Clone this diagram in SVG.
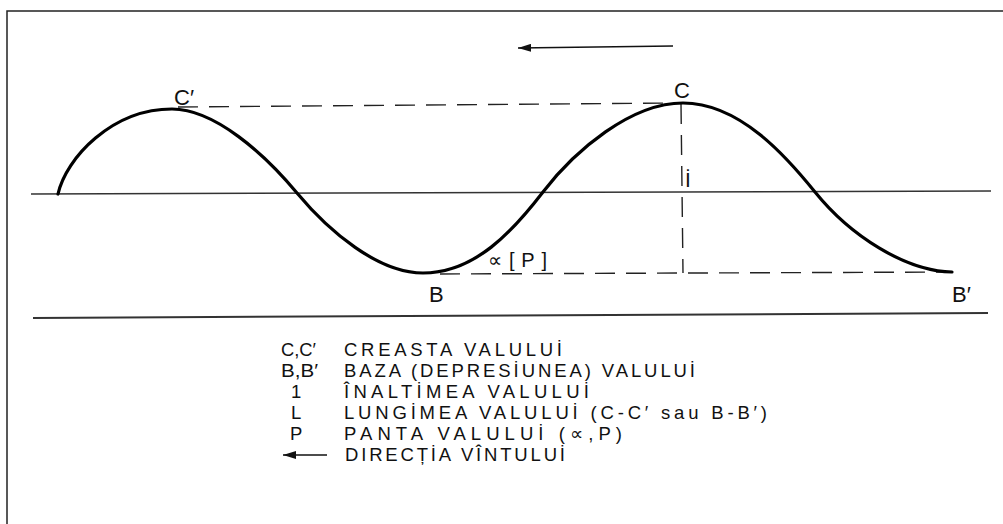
<svg xmlns="http://www.w3.org/2000/svg" width="1003" height="524" viewBox="0 0 1003 524">
<style>
.frame{stroke:#222;stroke-width:1.5;fill:none}
.sea{stroke:#333;stroke-width:1.4;fill:none}
.wave{stroke:#000;stroke-width:3.2;fill:none;stroke-linecap:round}
.dash{stroke:#222;stroke-width:1.4;stroke-dasharray:20 11;fill:none}
.arrow{stroke:#111;stroke-width:1.5;fill:none}
text{font-family:"Liberation Sans","DejaVu Sans",sans-serif;fill:#111}
.leg{font-size:18.5px}
.lab{font-size:22px}
</style>
<defs>
<marker id="ah" markerWidth="14" markerHeight="8" refX="13" refY="4" orient="auto" markerUnits="userSpaceOnUse">
<path d="M0,0 L13,4 L0,8 Z" fill="#111"/>
</marker>
</defs>
<rect width="1003" height="524" fill="#fff"/>
<path class="frame" d="M7,524 L7,11 L1003,11"/>
<g id="connectors">
<line class="sea" x1="31" y1="194" x2="991" y2="191"/>
<line class="sea" x1="33" y1="318" x2="988" y2="313" style="stroke-width:2"/>
<line class="dash" x1="178" y1="107" x2="681" y2="103"/>
<line class="dash" x1="681" y1="104" x2="683" y2="273"/>
<line class="dash" x1="440" y1="274" x2="952" y2="272"/>
<line class="arrow" x1="673" y1="46" x2="518" y2="48" marker-end="url(#ah)"/>
</g>
<g id="wave">
<path class="wave" d="M58,194 C66,158 112,109 172,109 C215,109 265,154.6 297,193 C329,231.4 378,273 423,273 C475,273 513,231 543,192 C575,150.4 631,103 683,103 C740,103 787,157.3 815,192 C850,235.4 905,271 952,272"/>
</g>
<g id="labels">
<text class="lab" x="174" y="105">C′</text>
<text class="lab" x="674" y="98">C</text>
<text class="lab" x="429" y="302">B</text>
<text class="lab" x="952" y="302">B′</text>
<text class="lab" x="685" y="187" style="font-size:21px">İ</text>
<text x="488" y="267" style="font-size:20px" textLength="59" lengthAdjust="spacing">∝[P]</text>
</g>
<g id="legend">
<text class="leg" x="281" y="356" textLength="35" lengthAdjust="spacingAndGlyphs">C,C′</text>
<text class="leg" x="344" y="356" textLength="218" lengthAdjust="spacing">CREASTA VALULUİ</text>
<text class="leg" x="281" y="377" textLength="37" lengthAdjust="spacingAndGlyphs">B,B′</text>
<text class="leg" x="344" y="377" textLength="351" lengthAdjust="spacing">BAZA (DEPRESİUNEA) VALULUİ</text>
<text class="leg" x="291" y="398">1</text>
<text class="leg" x="344" y="398" textLength="245" lengthAdjust="spacing">ÎNALTİMEA VALULUİ</text>
<text class="leg" x="291" y="419">L</text>
<text class="leg" x="344" y="419" textLength="423" lengthAdjust="spacing">LUNGİMEA VALULUİ (C-C′ sau B-B′)</text>
<text class="leg" x="290" y="440">P</text>
<text class="leg" x="344" y="440" textLength="278" lengthAdjust="spacing">PANTA VALULUİ (∝,P)</text>
<line class="arrow" x1="327" y1="455" x2="283" y2="455" marker-end="url(#ah)" style="stroke-width:1.3"/>
<text class="leg" x="345" y="461" textLength="220" lengthAdjust="spacing">DIRECȚİA VÎNTULUİ</text>
</g>
</svg>
